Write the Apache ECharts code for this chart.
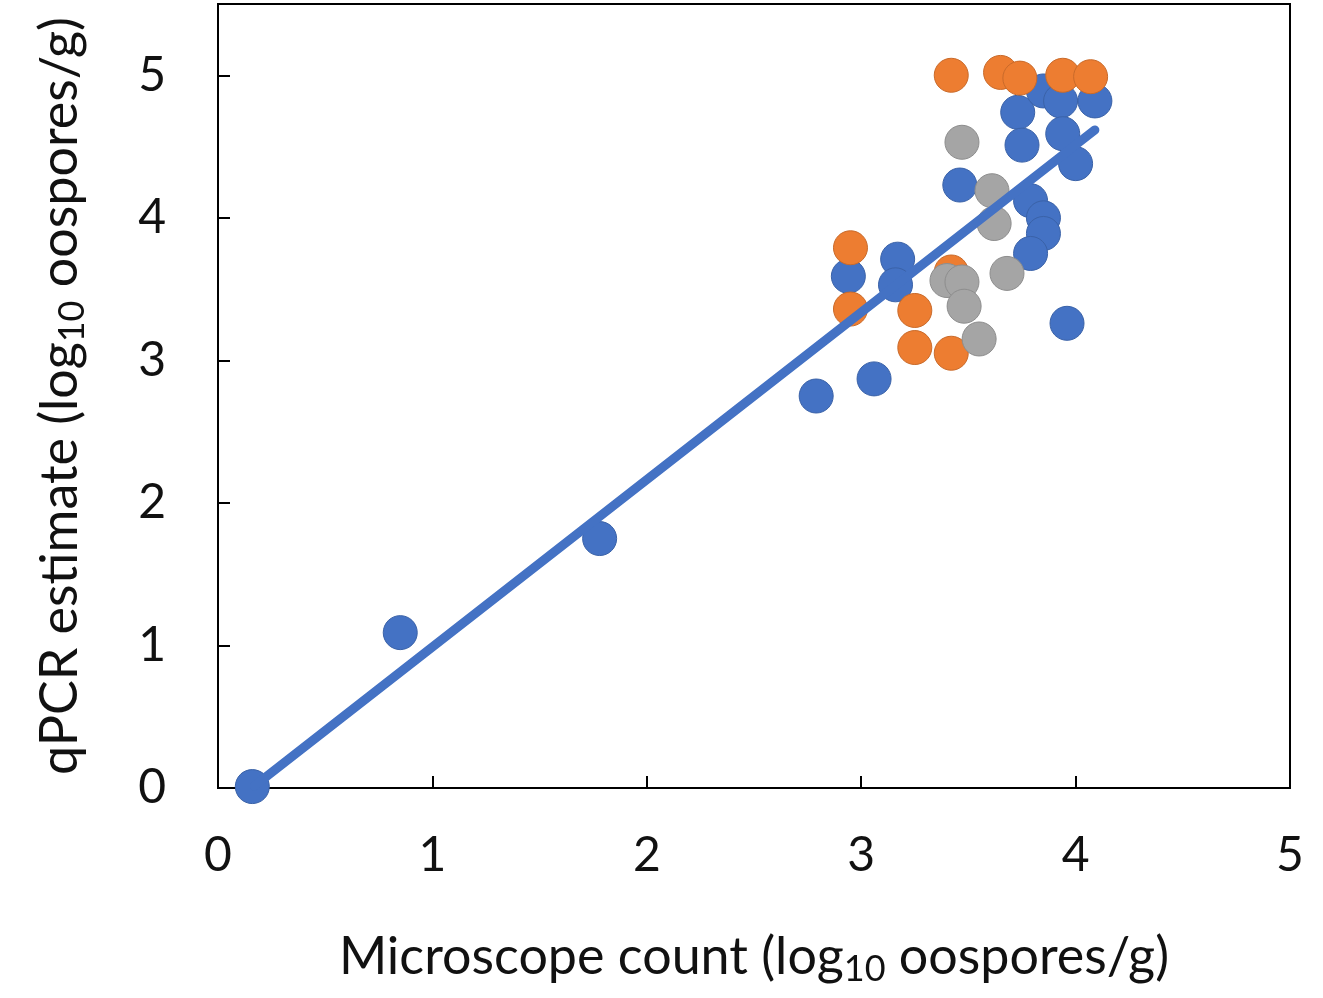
<!DOCTYPE html>
<html>
<head>
<meta charset="utf-8">
<script src="https://cdn.jsdelivr.net/npm/echarts@6/dist/echarts.min.js"></script>
<style>
html,body{margin:0;padding:0;background:#fff;}
#chart{width:1323px;height:998px;}
</style>
</head>
<body>
<div id="chart"></div>
<script>
// Data: [microscope count, qPCR estimate] (log10 oospores/g)
const blueSeries = [
  [0.16, 0.01], [0.85, 1.09], [1.78, 1.75], [2.79, 2.75], [3.06, 2.87],
  [2.94, 3.59], [3.17, 3.71], [3.16, 3.53], [3.46, 4.23], [3.73, 4.74],
  [3.75, 4.51], [3.96, 3.26], [3.85, 4.89], [3.93, 4.82], [4.09, 4.82],
  [3.94, 4.59], [4.00, 4.38], [3.79, 4.12], [3.85, 4.00], [3.85, 3.89],
  [3.79, 3.75]
];
const orangeSeries = [
  [3.42, 5.00], [3.65, 5.02], [3.74, 4.98], [3.94, 5.00], [4.07, 4.99],
  [2.95, 3.79], [2.95, 3.36], [3.25, 3.35], [3.25, 3.09], [3.42, 3.05],
  [3.42, 3.62]
];
const graySeries = [
  [3.47, 4.53], [3.61, 4.19], [3.62, 3.96], [3.68, 3.61], [3.40, 3.56],
  [3.47, 3.55], [3.48, 3.38], [3.55, 3.15]
];
// Linear trendline
const trendSlope = 1.174;
const trendIntercept = -0.185;
const trendXRange = [0.17, 4.09];
const xTicks = [0, 1, 2, 3, 4, 5];
const yTicks = [0, 1, 2, 3, 4, 5];

const trendData = trendXRange.map(x => [x, trendSlope * x + trendIntercept]);

const FONT = 'Lato';
const chart = echarts.init(document.getElementById('chart'), null, {renderer: 'canvas'});

function scatter(name, data, color, border) {
  return {
    name: name, type: 'scatter', data: data, symbol: 'circle', symbolSize: 34,
    itemStyle: {color: color, borderColor: border, borderWidth: 1, opacity: 1},
    emphasis: {disabled: true}, z: 2
  };
}

const nameRich = {
  t: {fontFamily: FONT, fontSize: 52, color: '#111'},
  s: {fontFamily: FONT, fontSize: 36, color: '#111', padding: [24, 0, 0, 0]}
};

chart.setOption({
  animation: false,
  backgroundColor: '#ffffff',
  grid: {left: 218, right: 33, top: 4, bottom: 210, show: true, borderColor: '#000', borderWidth: 2, backgroundColor: 'transparent'},
  xAxis: {
    type: 'value', min: 0, max: 5, interval: 1,
    axisLine: {show: true, onZero: false, lineStyle: {color: '#000', width: 2}},
    axisTick: {show: true, inside: true, length: 12, lineStyle: {color: '#000', width: 2}},
    splitLine: {show: false},
    axisLabel: {color: '#111', fontFamily: FONT, fontSize: 48, margin: 44,
      formatter: v => xTicks.includes(v) ? String(v) : ''},
    name: '{t|Microscope count (log}{s|10}{t| oospores/g)}',
    nameLocation: 'middle', nameGap: 139,
    nameTextStyle: {rich: nameRich}
  },
  yAxis: {
    type: 'value', min: 0, max: 5.5, interval: 1,
    axisLine: {show: true, onZero: false, lineStyle: {color: '#000', width: 2}},
    axisTick: {show: true, inside: true, length: 12, lineStyle: {color: '#000', width: 2},
      customValues: yTicks},
    splitLine: {show: false},
    axisLabel: {color: '#111', fontFamily: FONT, fontSize: 48, margin: 52,
      customValues: yTicks,
      formatter: v => yTicks.includes(v) ? String(v) : ''},
    name: '{t|qPCR estimate (log}{s|10}{t| oospores/g)}',
    nameLocation: 'middle', nameGap: 128, nameRotate: 90,
    nameTextStyle: {rich: nameRich}
  },
  series: [
    scatter('Series 1', blueSeries, '#4472C4', '#3A62A8'),
    scatter('Series 2', orangeSeries, '#ED7D31', '#C96A2A'),
    scatter('Series 3', graySeries, '#A5A5A5', '#8D8D8D'),
    {
      name: 'Trend', type: 'line', data: trendData, symbol: 'none', z: 3,
      lineStyle: {color: '#4472C4', width: 9, cap: 'round'},
      emphasis: {disabled: true}
    }
  ]
});
</script>
</body>
</html>
